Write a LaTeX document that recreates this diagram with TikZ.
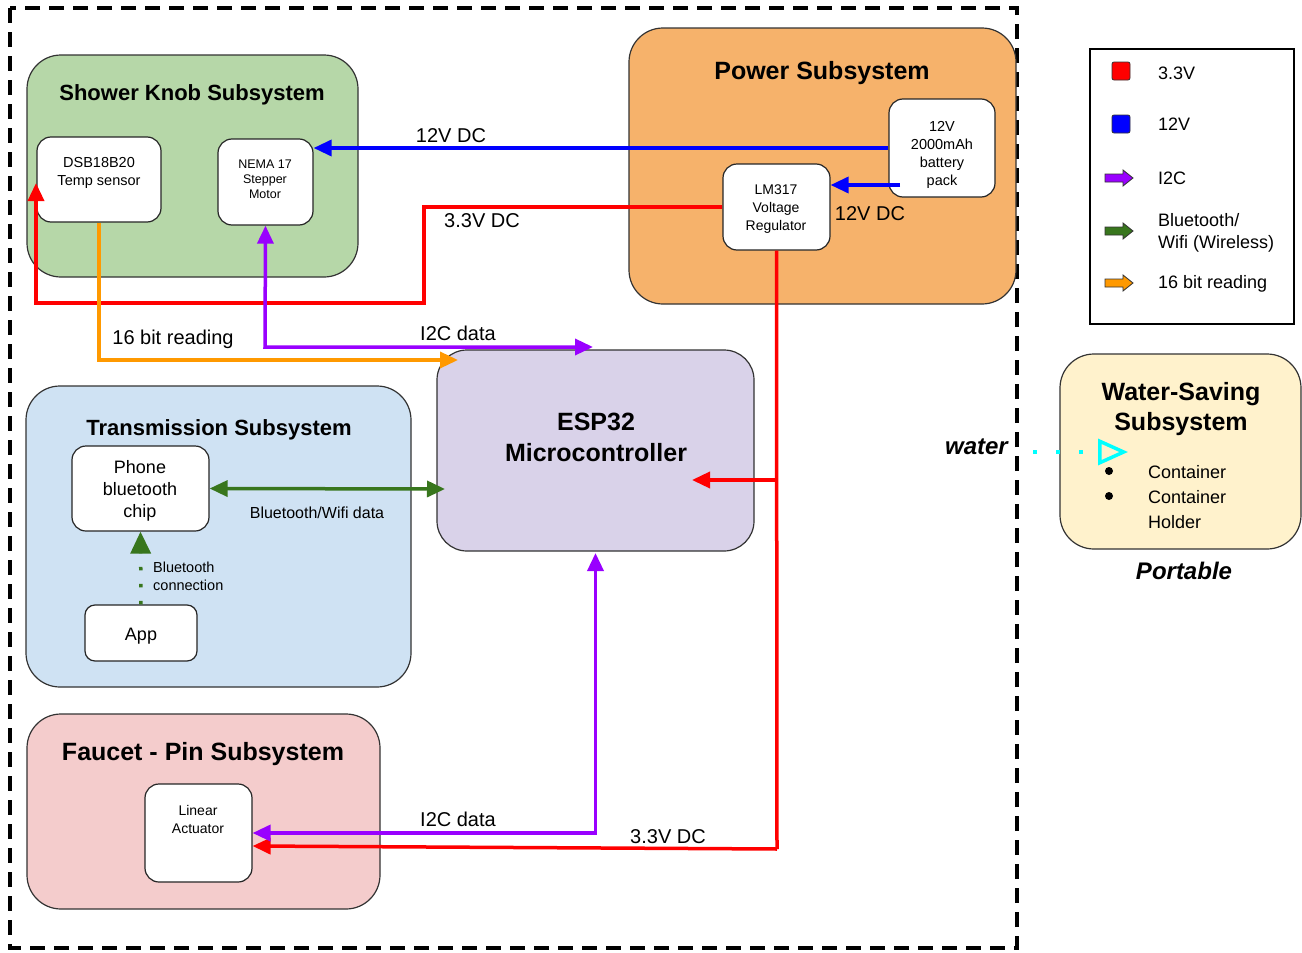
\documentclass[tikz,border=0pt]{standalone}
\usepackage{fontspec}
\setmainfont{Liberation Sans}
\usetikzlibrary{arrows.meta}
\definecolor{cRed}{HTML}{FF0000}
\definecolor{cBlue}{HTML}{0000FF}
\definecolor{cPurple}{HTML}{9900FF}
\definecolor{cGreen}{HTML}{38761D}
\definecolor{cOrange}{HTML}{FF9900}
\definecolor{cCyan}{HTML}{00FFFF}
\definecolor{fKnob}{HTML}{B6D7A8}
\definecolor{fPower}{HTML}{F6B26B}
\definecolor{fEsp}{HTML}{D9D2E9}
\definecolor{fTrans}{HTML}{CFE2F3}
\definecolor{fFaucet}{HTML}{F4CCCC}
\definecolor{fWater}{HTML}{FFF2CC}
\tikzset{
  bigbox/.style={draw=black!80, line width=1.2pt, rounded corners=34pt, inner sep=0pt},
  smallbox/.style={draw=black!85, fill=white, line width=1.2pt, rounded corners=14pt, inner sep=0pt},
  wire/.style={line width=3.5pt},
  tip/.style={-{Triangle[length=18pt,width=16pt]}},
  tips/.style={{Triangle[length=18pt,width=16pt]}-{Triangle[length=18pt,width=16pt]}},
  title/.style={font=\bfseries\fontsize{#1}{#1}\selectfont, inner sep=0pt, align=center},
  lbl/.style={font=\fontsize{#1}{#1}\selectfont, inner sep=0pt, align=center},
  legarrow/.style={draw=black!80, line width=0.8pt},
  bullet/.style={circle, fill=black, inner sep=0pt, minimum size=8pt},
}
\begin{document}
\begin{tikzpicture}[x=1pt,y=-1pt]
\useasboundingbox (0,0) rectangle (1302,953);
\fill[white] (0,0) rectangle (1302,953);

% outer dashed border
\draw[line width=3.5pt, dash pattern=on 15pt off 9pt] (10,8) rectangle (1017,948);

% big subsystem boxes
\node[bigbox, fill=fKnob, minimum width=331pt, minimum height=222pt] (knob) at (192.5,166) {};
\node[bigbox, fill=fPower, minimum width=387pt, minimum height=276pt] (power) at (822.5,166) {};
\node[bigbox, fill=fEsp, minimum width=317pt, minimum height=201pt, rounded corners=30pt] (esp) at (595.5,450.5) {};
\node[bigbox, fill=fTrans, minimum width=385pt, minimum height=301pt] (trans) at (218.5,536.5) {};
\node[bigbox, fill=fFaucet, minimum width=353pt, minimum height=195pt] (faucet) at (203.5,811.5) {};
\node[bigbox, fill=fWater, minimum width=241pt, minimum height=195pt] (water) at (1180.5,451.5) {};

% titles
\node[title=22] (knobT) at (192,94.5) {Shower Knob Subsystem};
\node[title=25] (powerT) at (822,73) {Power Subsystem};
\node[title=22] (transT) at (219,429.5) {Transmission Subsystem};
\node[title=25] (faucetT) at (203,754.5) {Faucet - Pin Subsystem};
\node[title=25, font=\bfseries\fontsize{25}{31}\selectfont] (espT) at (596,437.5) {ESP32\\Microcontroller};
\node[title=25, font=\bfseries\fontsize{25}{30}\selectfont] (waterT) at (1181,409) {Water-Saving\\Subsystem};
\node[font=\bfseries\itshape\fontsize{24}{24}\selectfont, inner sep=0pt] (portT) at (1184,570.5) {Portable};
\node[font=\bfseries\itshape\fontsize{24}{24}\selectfont, inner sep=0pt, anchor=east] (waterL) at (1008,447) {water};

% small component boxes
\node[smallbox, minimum width=124pt, minimum height=85pt] (dsb) at (99,179.5) {};
\node[lbl=14.5, font=\fontsize{14.5}{18}\selectfont] (dsbT) at (99,172.5) {DSB18B20\\Temp sensor};
\node[smallbox, minimum width=95pt, minimum height=86pt] (nema) at (265.5,182) {};
\node[lbl=12.5, font=\fontsize{12.5}{15}\selectfont] (nemaT) at (265,179) {NEMA 17\\Stepper\\Motor};
\node[smallbox, minimum width=106pt, minimum height=98pt] (bat) at (942,148) {};
\node[lbl=14.5, font=\fontsize{14.5}{18}\selectfont] (batT) at (942,155) {12V\\2000mAh\\battery\\pack};
\node[smallbox, minimum width=107pt, minimum height=86pt] (lm) at (776.5,207) {};
\node[lbl=14, font=\fontsize{14}{18}\selectfont] (lmT) at (776,209) {LM317\\Voltage\\Regulator};
\node[smallbox, minimum width=137pt, minimum height=85pt] (phone) at (140.5,488.5) {};
\node[lbl=18, font=\fontsize{18}{22}\selectfont] (phoneT) at (140,491) {Phone\\bluetooth\\chip};
\node[smallbox, minimum width=112pt, minimum height=56pt, rounded corners=10pt] (app) at (141,633) {};
\node[lbl=18] (appT) at (141,636) {App};
\node[smallbox, minimum width=107pt, minimum height=98pt] (la) at (198.5,833) {};
\node[lbl=14, font=\fontsize{14}{18}\selectfont] (laT) at (198,819.5) {Linear\\Actuator};

% coordinates for bends
\coordinate (r1) at (424,207);
\coordinate (r2) at (424,303);
\coordinate (r3) at (36,303);
\coordinate (r4) at (36,183);
\coordinate (r5) at (777,849);
\coordinate (r6) at (777,480);
\coordinate (espIn) at (692,480);
\coordinate (b2) at (900,185);
\coordinate (p1) at (265,347);
\coordinate (p2) at (593,347);
\coordinate (o1) at (99,360);
\coordinate (o2) at (458,360);
\coordinate (g2) at (445,489);
\coordinate (w1) at (1033,452);
\coordinate (w2) at (1128,452);

% connectors
\draw[wire, cBlue, tip] (bat.west |- 0,148) -- (nema.east |- 0,148);
\draw[wire, cBlue, tip] (b2) -- (lm.east |- b2);
\draw[wire, cRed, tip] (lm.west) -- (r1) -- (r2) -- (r3) -- (r4);
\draw[wire, cRed] (lm.south) -- (r5);
\draw[wire, cRed, tip] (r5) -- (la.east |- 0,846);
\draw[wire, cRed, tip] (r6) -- (espIn);
\draw[wire, cOrange, tip] (dsb.south) -- (o1) -- (o2);
\draw[wire, cPurple, tips] (nema.south) -- (p1) -- (p2);
\draw[wire, cPurple, tips] (esp.south |- 0,553) -- (esp.south |- la.east) -- (la.east);
\draw[wire, cGreen, tips] (phone.east) -- (g2);
\draw[line width=3.5pt, cGreen, dash pattern=on 3.5pt off 13.5pt, -{Triangle[length=22pt,width=20pt]}] (app.north) -- (phone.south);
\draw[line width=3.5pt, cCyan, dash pattern=on 4pt off 19pt, -{Triangle[open,length=30pt,width=26pt,line width=3.5pt]}] (w1) -- (w2);

% connector labels
\node[lbl=20] (l12a) at (451,135.5) {12V DC};
\node[lbl=20] (l33a) at (482,220.5) {3.3V DC};
\node[lbl=20] (l12b) at (870,213.5) {12V DC};
\node[lbl=20] (l16) at (173,339.5) {16 bit reading};
\node[lbl=20] (li2a) at (458,333.5) {I2C data};
\node[lbl=16] (lbw) at (317,513) {Bluetooth/Wifi data};
\node[lbl=20] (li2b) at (458,819.5) {I2C data};
\node[lbl=20] (l33b) at (668,836.5) {3.3V DC};
\node[font=\fontsize{14.5}{18}\selectfont, inner sep=0pt, align=left, anchor=west] (lbc) at (153,576) {Bluetooth\\connection};

% water-saving contents
\node[bullet] (bul1) at (1109,471) {};
\node[bullet] (bul2) at (1109,496) {};
\node[font=\fontsize{18}{18}\selectfont, inner sep=0pt, anchor=west] (ct1) at (1148,472) {Container};
\node[font=\fontsize{18}{25}\selectfont, inner sep=0pt, anchor=west, align=left] (ct2) at (1148,509.5) {Container\\Holder};

% legend
\node[draw=black, line width=1.2pt, minimum width=204pt, minimum height=275pt, inner sep=0pt] (legend) at (1192,186.5) {};
\filldraw[fill=cRed, draw=black!80, line width=0.8pt, rounded corners=2pt] (1112,62) rectangle (1130,80);
\filldraw[fill=cBlue, draw=black!80, line width=0.8pt, rounded corners=2pt] (1112,115) rectangle (1130,133);
\foreach \yy/\cc in {178/cPurple, 231/cGreen, 283/cOrange}{
  \filldraw[legarrow, fill=\cc] (1105,\yy-4) -- (1123,\yy-4) -- (1123,\yy-8) -- (1133,\yy) -- (1123,\yy+8) -- (1123,\yy+4) -- (1105,\yy+4) -- cycle;
}
\node[font=\fontsize{18}{22}\selectfont, inner sep=0pt, anchor=west] (lg1) at (1158,73.5) {3.3V};
\node[font=\fontsize{18}{22}\selectfont, inner sep=0pt, anchor=west] (lg2) at (1158,124.5) {12V};
\node[font=\fontsize{18}{22}\selectfont, inner sep=0pt, anchor=west] (lg3) at (1158,178.5) {I2C};
\node[font=\fontsize{18}{22}\selectfont, inner sep=0pt, anchor=west, align=left] (lg4) at (1158,233) {Bluetooth/\\Wifi (Wireless)};
\node[font=\fontsize{18}{22}\selectfont, inner sep=0pt, anchor=west] (lg5) at (1158,283.5) {16 bit reading};
\end{tikzpicture}
\end{document}
